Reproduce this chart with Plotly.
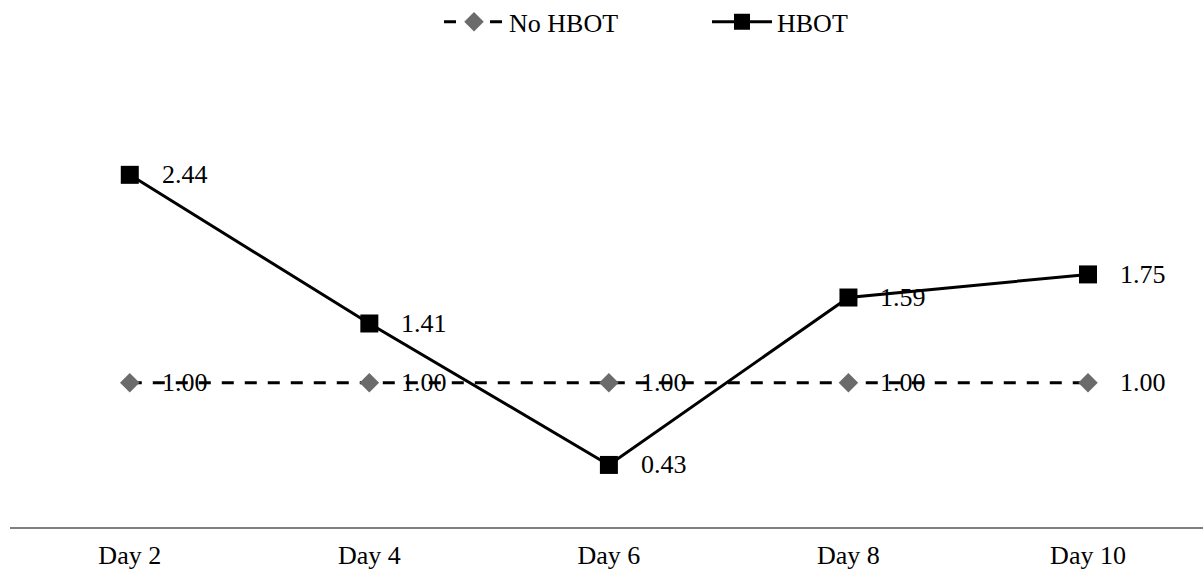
import plotly.graph_objects as go

days = ["Day 2", "Day 4", "Day 6", "Day 8", "Day 10"]
no_hbot = [1.00, 1.00, 1.00, 1.00, 1.00]
hbot = [2.44, 1.41, 0.43, 1.59, 1.75]

FONT = "Liberation Serif, Times New Roman, serif"
FS = 26

fig = go.Figure()
fig.add_trace(go.Scatter(
    x=days, y=no_hbot, name="No HBOT", mode="lines+markers",
    line=dict(color="black", width=3, dash="12px,11px"),
    marker=dict(symbol="diamond", size=15, color="#6b6b6b"),
))
fig.add_trace(go.Scatter(
    x=days, y=hbot, name="HBOT", mode="lines+markers",
    line=dict(color="black", width=3),
    marker=dict(symbol="square", size=18, color="black"),
))

annotations = []
for d, v in zip(days, no_hbot):
    annotations.append(dict(x=d, y=v, text=f"{v:.2f}", showarrow=False,
                            xanchor="left", yanchor="middle", xshift=30,
                            font=dict(family=FONT, size=FS, color="black")))
for d, v in zip(days, hbot):
    annotations.append(dict(x=d, y=v, text=f"{v:.2f}", showarrow=False,
                            xanchor="left", yanchor="middle", xshift=30,
                            font=dict(family=FONT, size=FS, color="black")))

fig.update_layout(
    width=1203, height=574,
    margin=dict(l=10, r=0, t=94, b=47),
    paper_bgcolor="white", plot_bgcolor="white",
    font=dict(family=FONT, size=FS, color="black"),
    showlegend=True,
    legend=dict(orientation="h", xref="container", yref="container",
                x=0.5877, xanchor="center", y=0.962, yanchor="middle",
                font=dict(family=FONT, size=FS), itemwidth=60,
                entrywidth=193),
    annotations=annotations,
    xaxis=dict(showgrid=False, zeroline=False, showline=True, linecolor="#7f7f7f",
               linewidth=2, ticks="", tickfont=dict(family=FONT, size=FS),
               ticklabelstandoff=4, range=[-0.5, 4.48]),
    yaxis=dict(range=[0, 3], showgrid=False, zeroline=False, showline=False,
               showticklabels=False, ticks=""),
)
fig.write_html("out.html")
